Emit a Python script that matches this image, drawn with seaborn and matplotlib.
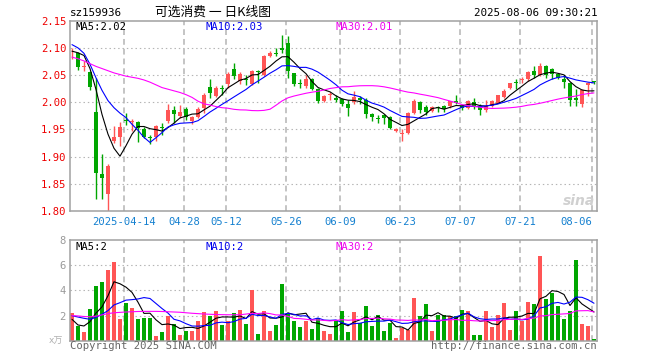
import numpy as np
import pandas as pd
import matplotlib
matplotlib.use("Agg")
import matplotlib.pyplot as plt
import seaborn as sns

# ---------------- data ----------------
opens = [2.088, 2.091, 2.065, 2.056, 1.983, 1.868, 1.832, 1.928, 1.936, 1.967,
         1.963, 1.964, 1.951, 1.937, 1.937, 1.955, 1.965, 1.985, 1.975, 1.988,
         1.966, 1.973, 1.989, 2.028, 2.011, 2.026, 2.034, 2.061, 2.040, 2.043,
         2.034, 2.058, 2.051, 2.085, 2.090, 2.099, 2.109, 2.053, 2.035, 2.029,
         2.042, 2.024, 2.002, 2.013, 2.007, 2.006, 1.997, 2.000, 2.007, 2.005,
         1.979, 1.971, 1.977, 1.973, 1.948, 1.941, 1.943, 1.980, 2.001, 1.991,
         1.984, 1.992, 1.993, 1.993, 2.003, 1.993, 1.990, 2.000, 1.994, 1.985,
         1.993, 1.999, 2.010, 2.027, 2.038, 2.041, 2.042, 2.057, 2.051, 2.067,
         2.061, 2.052, 2.042, 2.035, 2.008, 1.996, 2.032, 2.039]
highs = [2.100, 2.093, 2.075, 2.058, 2.045, 1.904, 1.887, 1.957, 1.963, 1.980,
         1.970, 1.965, 1.955, 1.940, 1.959, 1.962, 1.996, 1.994, 1.995, 1.991,
         1.975, 1.992, 2.017, 2.042, 2.029, 2.032, 2.055, 2.072, 2.055, 2.051,
         2.060, 2.060, 2.087, 2.094, 2.100, 2.123, 2.121, 2.054, 2.043, 2.051,
         2.045, 2.026, 2.014, 2.018, 2.014, 2.008, 2.004, 2.020, 2.011, 2.007,
         1.981, 1.977, 1.978, 1.975, 1.952, 1.950, 1.982, 2.006, 2.002, 1.995,
         1.993, 1.993, 1.995, 2.003, 2.014, 1.995, 2.004, 2.008, 1.996, 2.005,
         2.005, 2.014, 2.025, 2.036, 2.042, 2.046, 2.057, 2.067, 2.073, 2.068,
         2.063, 2.054, 2.051, 2.037, 2.024, 2.024, 2.037, 2.040]
lows = [2.080, 2.060, 2.057, 2.022, 1.822, 1.822, 1.800, 1.925, 1.920, 1.959,
        1.948, 1.927, 1.934, 1.924, 1.928, 1.940, 1.962, 1.962, 1.971, 1.967,
        1.960, 1.971, 1.980, 2.008, 2.009, 2.014, 2.026, 2.042, 2.034, 2.032,
        2.032, 2.036, 2.049, 2.083, 2.085, 2.090, 2.045, 2.029, 2.026, 2.026,
        2.022, 1.999, 2.000, 2.005, 2.000, 1.994, 1.975, 1.996, 1.996, 1.971,
        1.965, 1.962, 1.960, 1.950, 1.946, 1.928, 1.942, 1.978, 1.980, 1.976,
        1.983, 1.983, 1.983, 1.989, 1.996, 1.986, 1.988, 1.987, 1.976, 1.982,
        1.992, 1.998, 2.008, 2.025, 2.024, 2.035, 2.039, 2.045, 2.049, 2.045,
        2.043, 2.042, 2.027, 1.994, 1.994, 1.991, 2.011, 2.034]
closes = [2.089, 2.064, 2.067, 2.028, 1.870, 1.860, 1.882, 1.937, 1.955, 1.966,
          1.966, 1.953, 1.937, 1.935, 1.957, 1.953, 1.985, 1.978, 1.983, 1.973,
          1.972, 1.988, 2.014, 2.017, 2.026, 2.025, 2.052, 2.048, 2.052, 2.041,
          2.058, 2.056, 2.085, 2.091, 2.089, 2.097, 2.057, 2.034, 2.033, 2.042,
          2.025, 2.002, 2.012, 2.015, 2.005, 1.997, 1.990, 2.010, 2.004, 1.978,
          1.972, 1.969, 1.971, 1.953, 1.950, 1.943, 1.980, 2.003, 1.985, 1.982,
          1.992, 1.989, 1.988, 2.002, 1.999, 1.989, 2.002, 1.994, 1.985, 1.994,
          2.002, 2.013, 2.021, 2.035, 2.036, 2.043, 2.056, 2.051, 2.067, 2.051,
          2.052, 2.045, 2.037, 2.005, 2.004, 2.022, 2.036, 2.038]
volumes = [2.2, 1.19, 0.69, 2.52, 4.35, 4.67, 5.62, 6.26, 1.72, 3.0,
           2.6, 1.72, 1.8, 1.8, 0.37, 0.69, 1.99, 1.33, 0.45, 0.77,
           0.77, 1.56, 2.28, 1.96, 2.36, 1.27, 1.56, 2.2, 2.44, 1.33,
           4.03, 0.53, 2.36, 0.77, 1.25, 4.5, 2.2, 1.56, 1.09, 1.56,
           0.93, 1.78, 0.77, 0.53, 1.56, 2.36, 0.69, 2.28, 1.41, 2.76,
           1.17, 2.04, 0.77, 1.41, 0.21, 1.0, 0.85, 3.4, 1.99, 2.92,
           0.77, 2.04, 2.04, 1.99, 1.99, 2.44, 2.36, 0.45, 0.45, 2.36,
           1.09, 2.04, 3.0, 0.85, 2.36, 1.56, 3.08, 2.92, 6.74, 3.34,
           3.79, 2.76, 1.72, 2.36, 6.42, 1.33, 1.17, 0.13]

# moving-average values at the start of the window (history before the first candle)
ma5_head = [2.094, 2.091, 2.086, 2.062]
ma10_head = [2.106, 2.100, 2.090, 2.070, 2.045, 2.022, 2.003, 1.990, 1.980]
ma30_head = [2.083, 2.080, 2.076, 2.071, 2.066, 2.062, 2.058, 2.054, 2.051, 2.048,
             2.046, 2.044, 2.041, 2.037, 2.032, 2.027, 2.024, 2.021, 2.018, 2.014,
             2.009, 2.002, 1.997, 1.995, 1.992, 1.990, 1.989, 1.987, 1.986]
vma5_head = [1.70, 1.25, 1.17, 1.51]
vma10_head = [1.99, 1.88, 1.78, 1.70, 1.85, 2.10, 2.39, 2.84, 3.02]
vma30_head = [1.99, 1.97, 1.92, 1.90, 1.95, 2.05, 2.15, 2.22, 2.25, 2.28,
              2.30, 2.32, 2.33, 2.33, 2.33, 2.32, 2.30, 2.28, 2.26, 2.22,
              2.18, 2.15, 2.12, 2.10, 2.08, 2.07, 2.06, 2.06, 2.06]

tick_idx = [9, 19, 26, 36, 45, 55, 65, 75, 87]
tick_labels = ["2025-04-14", "04-28", "05-12", "05-26", "06-09", "06-23", "07-07", "07-21", "08-06"]
price_ticks = [1.80, 1.85, 1.90, 1.95, 2.00, 2.05, 2.10, 2.15]
vol_ticks = [0, 2, 4, 6, 8]

title = "可选消费 一 日K线图"
code = "sz159936"
stamp = "2025-08-06 09:30:21"
legend_main = ["MA5:2.02", "MA10:2.03", "MA30:2.01"]
legend_vol = ["MA5:2", "MA10:2", "MA30:2"]

# ---------------- derived ----------------
def moving_avg(values, n, head):
    s = pd.Series(values, dtype=float).rolling(n).mean()
    s.iloc[:n - 1] = head
    return s.values

idx = np.arange(len(closes))
df = pd.DataFrame({"i": idx, "open": opens, "high": highs, "low": lows,
                   "close": closes, "vol": volumes})
df["ma5"] = moving_avg(closes, 5, ma5_head)
df["ma10"] = moving_avg(closes, 10, ma10_head)
df["ma30"] = moving_avg(closes, 30, ma30_head)
df["vma5"] = moving_avg(volumes, 5, vma5_head)
df["vma10"] = moving_avg(volumes, 10, vma10_head)
df["vma30"] = moving_avg(volumes, 30, vma30_head)

RED = "#ff5555"
GREEN = "#00a600"
up = df["close"] >= df["open"]
colors = np.where(up, RED, GREEN)

# ---------------- figure ----------------
sns.set_style("white")
plt.rcParams["font.family"] = ["DejaVu Sans Mono", "Noto Sans CJK SC"]

W, H = 660, 360
fig = plt.figure(figsize=(W / 100, H / 100), dpi=100)

def rect(l, t, r, b):
    return [l / W, 1 - b / H, (r - l) / W, (b - t) / H]

ax = fig.add_axes(rect(70, 20.7, 597, 211))
axv = fig.add_axes(rect(70, 240, 597, 340.7))

XL = (-0.33, 87.5)
grid_pos = [t - 0.28 for t in tick_idx]
SPINE = "#a0a0a0"
GRID = "#b4b4b4"

for a in (ax, axv):
    a.set_xlim(*XL)
    for s in a.spines.values():
        s.set_color(SPINE)
        s.set_linewidth(1.1)
    for g in grid_pos:
        a.axvline(g, color=GRID, lw=1.1, ls=(0, (3.8, 2.6)), zorder=0)
    a.set_xticks(grid_pos)
    a.tick_params(axis="both", length=0)

# price panel
bw = 0.82
body_h = np.maximum(np.abs(df["close"] - df["open"]), 0.0016)
body_b = np.minimum(df["close"], df["open"])
ax.vlines(df["i"], df["low"], df["high"], colors=colors, lw=1.0, zorder=2)
ax.bar(df["i"], body_h, bottom=body_b, width=bw, color=colors, linewidth=0, zorder=3)
sns.lineplot(data=df, x="i", y="ma5", ax=ax, color="black", lw=0.8, zorder=4)
sns.lineplot(data=df, x="i", y="ma10", ax=ax, color="#0000ff", lw=0.8, zorder=4)
sns.lineplot(data=df, x="i", y="ma30", ax=ax, color="#ff00ff", lw=0.8, zorder=4)
ax.set_ylim(1.80, 2.15)
ax.set_yticks(price_ticks)
ax.set_yticklabels([f"{v:.2f}" for v in price_ticks])
for v in price_ticks[1:-1]:
    ax.axhline(v, color=GRID, lw=0.8, ls=(0, (1.3, 2.6)), zorder=0)
ax.tick_params(axis="y", colors="#ee0000", labelsize=7.6, pad=2.5)
ax.set_xticklabels(tick_labels)
ax.tick_params(axis="x", labelcolor="#1480d0", labelsize=7.6, pad=4.5)
ax.get_xticklabels()[-1].set_ha("right")
ax.set_xlabel("")
ax.set_ylabel("")

# volume panel
axv.bar(df["i"], df["vol"], width=bw, color=colors, linewidth=0, zorder=2)
sns.lineplot(data=df, x="i", y="vma5", ax=axv, color="black", lw=0.8, zorder=4)
sns.lineplot(data=df, x="i", y="vma10", ax=axv, color="#0000ff", lw=0.8, zorder=4)
sns.lineplot(data=df, x="i", y="vma30", ax=axv, color="#ff00ff", lw=0.8, zorder=4)
axv.set_ylim(0, 8)
axv.set_yticks(vol_ticks)
axv.set_yticklabels([""] + [str(v) for v in vol_ticks[1:]])
for v in vol_ticks[1:-1]:
    axv.axhline(v, color=GRID, lw=0.8, ls=(0, (1.3, 2.6)), zorder=0)
axv.tick_params(axis="y", colors="#9a9a9a", labelsize=7.6, pad=3)
axv.set_xticklabels([])
axv.set_xlabel("")
axv.set_ylabel("")

# ---------------- texts ----------------
def ftxt(x, y, s, **kw):
    fig.text(x / W, 1 - y / H, s, va="center", **kw)

ftxt(70, 13, code, ha="left", fontsize=7.8, color="black")
ftxt(213, 12.5, title, ha="center", fontsize=9.2, color="black",
     family=["Noto Sans CJK SC", "DejaVu Sans"])
ftxt(597, 13, stamp, ha="right", fontsize=7.8, color="black")

ftxt(75, 26.5, legend_main[0], ha="left", fontsize=7.6, color="black")
ftxt(205, 26.5, legend_main[1], ha="left", fontsize=7.6, color="#0000ee")
ftxt(335, 26.5, legend_main[2], ha="left", fontsize=7.6, color="#ee00ee")
ftxt(75, 247, legend_vol[0], ha="left", fontsize=7.6, color="black")
ftxt(205, 247, legend_vol[1], ha="left", fontsize=7.6, color="#0000ee")
ftxt(335, 247, legend_vol[2], ha="left", fontsize=7.6, color="#ee00ee")

ftxt(63, 341, "x万", ha="right", fontsize=6.5, color="#b0b0b0",
     family=["DejaVu Sans", "Noto Sans CJK SC"])
ftxt(70, 346, "Copyright 2025 SINA.COM", ha="left", fontsize=7.6, color="#666666")
ftxt(597, 346, "http://finance.sina.com.cn", ha="right", fontsize=7.6, color="#666666")
ftxt(579, 201, "sina", ha="center", fontsize=10, color="#d0d0d0",
     style="italic", weight="bold", family=["DejaVu Sans"])

fig.savefig("out.png", dpi=100)
